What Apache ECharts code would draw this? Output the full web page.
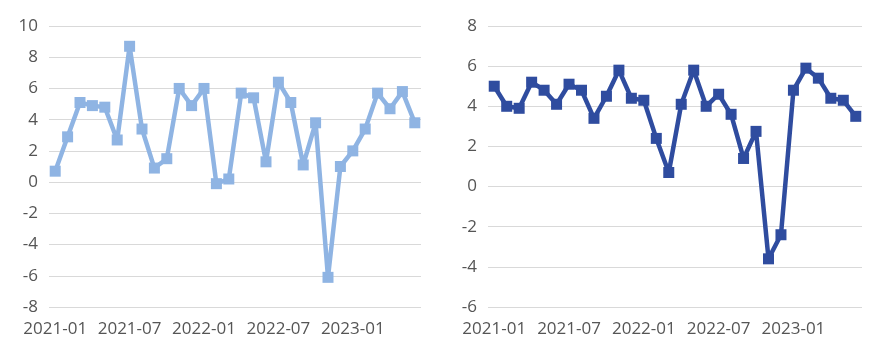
<!DOCTYPE html>
<html>
<head>
<meta charset="utf-8">
<script src="https://cdn.jsdelivr.net/npm/echarts@6/dist/echarts.min.js"></script>
<style>
html,body{margin:0;padding:0;background:#fff;}
#c{width:886px;height:361px;}
</style>
</head>
<body>
<div id="c"></div>
<script>
const categories = [
  '2021-01','2021-02','2021-03','2021-04','2021-05','2021-06',
  '2021-07','2021-08','2021-09','2021-10','2021-11','2021-12',
  '2022-01','2022-02','2022-03','2022-04','2022-05','2022-06',
  '2022-07','2022-08','2022-09','2022-10','2022-11','2022-12',
  '2023-01','2023-02','2023-03','2023-04','2023-05','2023-06'
];
const leftValues = [0.7, 2.9, 5.1, 4.9, 4.8, 2.7, 8.7, 3.4, 0.9, 1.5,
  6.0, 4.9, 6.0, -0.1, 0.2, 5.7, 5.4, 1.3, 6.4, 5.1,
  1.1, 3.8, -6.1, 1.0, 2.0, 3.4, 5.7, 4.7, 5.8, 3.8];
const rightValues = [5.0, 4.0, 3.9, 5.2, 4.8, 4.1, 5.1, 4.8, 3.4, 4.5,
  5.8, 4.4, 4.3, 2.4, 0.7, 4.1, 5.8, 4.0, 4.6, 3.6,
  1.4, 2.75, -3.6, -2.4, 4.8, 5.9, 5.4, 4.4, 4.3, 3.5];
const leftAxis = {min: -8, max: 10, interval: 2};
const rightAxis = {min: -6, max: 8, interval: 2};

const font = "'Open Sans', 'Liberation Sans', sans-serif";
const txt = '#555555';
function xAxis(i){
  return {
    type: 'category', gridIndex: i, data: categories, boundaryGap: true,
    axisLine: {show: false}, axisTick: {show: false},
    axisLabel: {interval: 5, color: txt, fontFamily: font, fontSize: 17, margin: 14}
  };
}
function yAxis(i, a){
  return {
    type: 'value', gridIndex: i, min: a.min, max: a.max, interval: a.interval,
    axisLine: {show: false}, axisTick: {show: false},
    axisLabel: {color: txt, fontFamily: font, fontSize: 17, margin: 11},
    splitLine: {show: true, lineStyle: {color: '#D9D9D9', width: 1}}
  };
}
function series(i, data, color){
  return {
    type: 'line', xAxisIndex: i, yAxisIndex: i, data: data,
    symbol: 'rect', symbolSize: 11, showSymbol: true, showAllSymbol: true,
    lineStyle: {color: color, width: 4.5},
    itemStyle: {color: color},
    animation: false
  };
}
const chart = echarts.init(document.getElementById('c'));
chart.setOption({
  backgroundColor: '#fff',
  animation: false,
  grid: [
    {left: 49, right: 465, top: 26, bottom: 54},
    {left: 488, right: 24, top: 26, bottom: 54}
  ],
  xAxis: [xAxis(0), xAxis(1)],
  yAxis: [yAxis(0, leftAxis), yAxis(1, rightAxis)],
  series: [series(0, leftValues, '#8FB4E3'), series(1, rightValues, '#2F4C9F')]
});
</script>
</body>
</html>
